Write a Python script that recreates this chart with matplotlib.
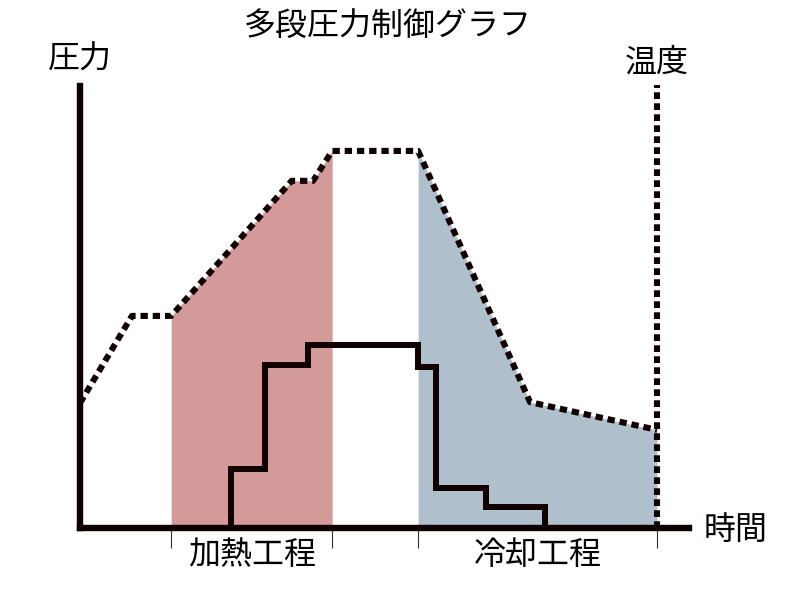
import numpy as np
import matplotlib
matplotlib.use("Agg")
import matplotlib.pyplot as plt

plt.rcParams["font.family"] = ["Noto Sans CJK JP", "DejaVu Sans"]

# temperature profile (dotted), time 0..100
temp_t = [0, 9.0, 15.8, 36.7, 40.4, 43.7, 58.6, 78.0, 100]
temp_v = [28.4, 48.2, 48.2, 78.9, 78.9, 85.7, 85.7, 28.6, 22.3]

# pressure steps (solid)
press_t = [26.2, 26.2, 32.1, 39.5, 58.6, 61.7, 70.4, 80.6]
press_v = [0, 13.4, 37.0, 41.6, 36.6, 9.1, 4.8, 0]

# process phases
phase_names = ["加熱工程", "冷却工程"]
phase_start = [15.8, 58.6]
phase_end = [43.7, 100]
phase_colors = ["#d49a9a", "#b0bfcc"]

ink = "#100000"
fs = 23

fig = plt.figure(figsize=(8, 6.05), dpi=100)
ax = fig.add_axes([0.1, 77 / 605, 577 / 800, 440 / 605])
ax.set_xlim(0, 100)
ax.set_ylim(0, 100)
for s in ax.spines.values():
    s.set_visible(False)

t = np.array(temp_t)
v = np.array(temp_v)
for start, end, col in zip(phase_start, phase_end, phase_colors):
    ax.fill_between(t, 0, v, where=(t >= start) & (t <= end), color=col, lw=0, zorder=1)

ax.plot(temp_t, temp_v, color=ink, lw=4.4, linestyle=(0, (1.2, 0.8)),
        dash_capstyle="butt", clip_on=False, zorder=3)
ax.step(press_t, press_v, where="post", color=ink, lw=4.3,
        solid_joinstyle="miter", clip_on=False, zorder=4)

# axes lines
ax.plot([0, 0], [0, 100.5], color=ink, lw=4.6, solid_capstyle="projecting", clip_on=False, zorder=5)
ax.plot([0, 105.6], [0, 0], color=ink, lw=4.6, solid_capstyle="projecting", clip_on=False, zorder=5)
ax.plot([100, 100], [0, 100.7], color=ink, lw=4.4, linestyle=(0, (1.1, 0.7)),
        dash_capstyle="butt", clip_on=False, zorder=5)

ax.set_yticks([])
ax.set_xticks(sorted(set(phase_start + phase_end)))
ax.set_xticklabels([])
ax.tick_params(axis="x", direction="out", length=14.4, width=0.8, color="#333333")

for name, start, end in zip(phase_names, phase_start, phase_end):
    ax.text((start + end) / 2, -6.1, name, ha="center", va="center", fontsize=fs, clip_on=False)

ax.text(0, 106.4, "圧力", ha="center", va="center", fontsize=fs)
ax.text(100, 105.7, "温度", ha="center", va="center", fontsize=fs)
ax.text(113.6, -0.5, "時間", ha="center", va="center", fontsize=fs)
fig.text(0.485, 1 - 27 / 605, "多段圧力制御グラフ", ha="center", va="center", fontsize=fs)

fig.savefig("out.png", dpi=100)
